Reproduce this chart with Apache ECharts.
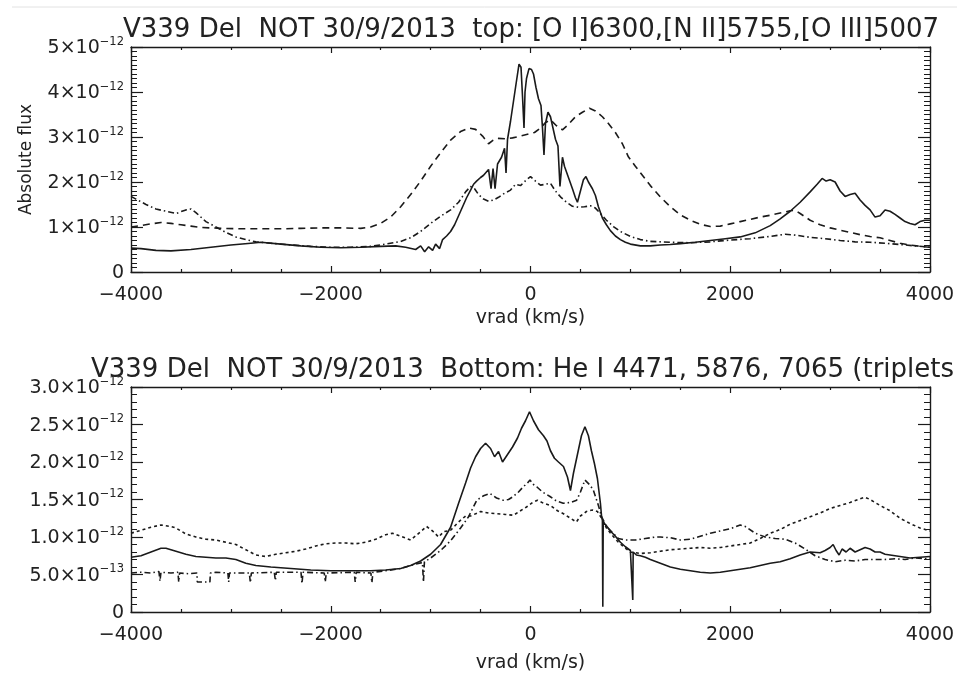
<!DOCTYPE html>
<html>
<head>
<meta charset="utf-8">
<script src="https://cdn.jsdelivr.net/npm/echarts@6/dist/echarts.min.js"></script>
<style>
html,body{margin:0;padding:0;background:#fff;}
#chart{width:975px;height:684px;}
</style>
</head>
<body>
<div id="chart"></div>
<script>
// Velocities in km/s, fluxes in units of 1e-12 (absolute flux)
// ---- Top panel: [O I]6300, [N II]5755, [O III]5007 ----
var topSolidV = [-4000,-3900,-3750,-3600,-3400,-3200,-3000,-2800,-2700,-2500,-2300,-2100,-1900,-1700,-1500,-1350,-1250,-1150,-1100,-1060,-1020,-980,-950,-910,-880,-840,-800,-760,-720,-680,-640,-600,-570,-540,-500,-470,-420,-395,-375,-355,-330,-290,-260,-245,-230,-200,-170,-140,-115,-95,-80,-65,-55,-40,-15,10,30,55,80,105,120,135,150,175,200,225,250,275,295,320,340,380,420,450,470,500,530,555,580,620,650,680,720,760,800,850,900,950,1000,1100,1200,1300,1400,1500,1650,1800,1950,2100,2250,2400,2500,2600,2700,2800,2870,2920,2960,3000,3050,3100,3150,3200,3250,3300,3350,3400,3450,3500,3550,3600,3650,3700,3750,3800,3850,3900,3950,4000];
var topSolidF = [0.53,0.52,0.48,0.47,0.50,0.55,0.60,0.64,0.66,0.62,0.58,0.55,0.54,0.55,0.57,0.58,0.55,0.50,0.58,0.45,0.56,0.48,0.62,0.52,0.72,0.80,0.90,1.05,1.25,1.45,1.65,1.82,1.95,2.02,2.10,2.15,2.28,1.85,2.30,1.85,2.40,2.55,2.75,2.20,2.95,3.35,3.80,4.25,4.62,4.55,3.90,3.20,4.00,4.30,4.52,4.50,4.40,4.10,3.85,3.70,3.20,2.60,3.30,3.55,3.45,3.20,2.95,2.80,1.90,2.55,2.35,2.10,1.85,1.65,1.55,1.80,2.05,2.12,2.00,1.85,1.70,1.45,1.20,1.05,0.92,0.80,0.72,0.66,0.62,0.58,0.58,0.60,0.61,0.63,0.66,0.70,0.74,0.78,0.87,1.03,1.18,1.35,1.55,1.78,1.95,2.08,2.02,2.05,2.00,1.80,1.68,1.72,1.75,1.60,1.48,1.38,1.22,1.25,1.38,1.35,1.28,1.20,1.12,1.08,1.05,1.12,1.15,1.15];

var topDashV = [-4000,-3900,-3800,-3700,-3600,-3500,-3400,-3300,-3100,-2900,-2700,-2500,-2300,-2100,-1900,-1700,-1600,-1500,-1400,-1300,-1200,-1100,-1000,-900,-800,-700,-620,-550,-480,-420,-380,-330,-250,-180,-100,-30,40,100,150,200,260,320,380,450,520,590,650,720,780,850,920,980,1050,1130,1200,1300,1400,1500,1600,1700,1800,1900,2000,2100,2200,2300,2400,2500,2600,2650,2700,2800,2900,3000,3100,3200,3300,3400,3500,3600,3700,3800,3900,4000];
var topDashF = [1.00,1.03,1.07,1.10,1.08,1.05,1.02,0.99,0.97,0.96,0.96,0.96,0.97,0.98,0.98,0.97,1.00,1.08,1.22,1.45,1.72,2.02,2.35,2.65,2.93,3.12,3.20,3.17,3.02,2.85,2.92,2.97,2.96,2.98,3.02,3.06,3.10,3.20,3.32,3.38,3.25,3.16,3.28,3.45,3.55,3.64,3.58,3.45,3.30,3.10,2.85,2.56,2.35,2.12,1.92,1.67,1.45,1.27,1.15,1.06,1.01,1.02,1.07,1.12,1.17,1.22,1.26,1.31,1.36,1.37,1.30,1.15,1.05,0.98,0.93,0.88,0.83,0.79,0.76,0.70,0.64,0.60,0.57,0.55];

var topDashDotV = [-4000,-3950,-3850,-3750,-3650,-3550,-3450,-3400,-3350,-3250,-3150,-3050,-2950,-2850,-2750,-2600,-2400,-2200,-2000,-1800,-1600,-1450,-1300,-1200,-1100,-1000,-900,-800,-720,-650,-600,-560,-520,-470,-420,-370,-320,-260,-200,-150,-100,-40,0,50,100,150,200,250,300,360,420,480,540,600,650,700,760,830,900,1000,1100,1200,1400,1600,1800,2000,2200,2400,2550,2650,2800,2950,3100,3250,3400,3550,3700,3850,4000];
var topDashDotF = [1.68,1.62,1.50,1.40,1.35,1.30,1.38,1.40,1.32,1.12,1.00,0.88,0.78,0.72,0.67,0.64,0.60,0.57,0.55,0.55,0.57,0.62,0.68,0.76,0.90,1.08,1.24,1.38,1.55,1.78,1.90,1.85,1.72,1.62,1.57,1.60,1.66,1.75,1.82,1.95,1.92,2.05,2.12,2.02,1.93,1.95,1.97,1.80,1.67,1.55,1.46,1.44,1.45,1.47,1.42,1.30,1.15,1.01,0.90,0.79,0.72,0.68,0.66,0.65,0.67,0.71,0.74,0.79,0.84,0.82,0.77,0.74,0.70,0.67,0.66,0.64,0.61,0.58,0.55];

// ---- Bottom panel: He I 4471, 5876, 7065 ----
var botSolidV = [-4000,-3900,-3800,-3700,-3650,-3550,-3450,-3350,-3250,-3150,-3050,-2950,-2850,-2750,-2600,-2400,-2200,-2000,-1800,-1600,-1450,-1300,-1200,-1100,-1000,-900,-800,-720,-650,-600,-550,-500,-450,-400,-360,-320,-280,-230,-180,-130,-90,-50,-10,30,80,130,165,200,240,280,330,370,400,430,470,510,545,580,610,640,670,700,712,720,724,728,760,800,850,900,950,1000,1020,1024,1028,1060,1100,1150,1200,1300,1400,1500,1600,1700,1800,1900,2000,2100,2200,2300,2400,2500,2600,2700,2800,2900,2950,3000,3030,3060,3090,3120,3160,3200,3250,3300,3350,3400,3450,3500,3550,3600,3700,3800,3900,4000];
var botSolidF = [0.73,0.75,0.80,0.85,0.85,0.81,0.77,0.74,0.73,0.72,0.72,0.70,0.65,0.62,0.60,0.58,0.56,0.55,0.55,0.55,0.56,0.58,0.62,0.68,0.77,0.90,1.13,1.45,1.72,1.92,2.07,2.18,2.25,2.18,2.07,2.14,2.00,2.10,2.20,2.32,2.45,2.55,2.67,2.55,2.43,2.35,2.28,2.15,2.05,2.00,1.94,1.80,1.62,1.85,2.10,2.35,2.47,2.35,2.15,1.98,1.78,1.45,1.27,1.22,0.07,1.20,1.15,1.08,1.01,0.93,0.87,0.82,0.80,0.16,0.80,0.76,0.75,0.73,0.70,0.65,0.60,0.57,0.55,0.53,0.52,0.53,0.55,0.57,0.59,0.62,0.65,0.67,0.71,0.76,0.80,0.79,0.82,0.86,0.90,0.82,0.76,0.84,0.80,0.85,0.80,0.83,0.86,0.84,0.80,0.80,0.77,0.76,0.74,0.72,0.73,0.74];

var botDotV = [-4000,-3900,-3800,-3700,-3600,-3550,-3450,-3350,-3250,-3150,-3050,-2950,-2850,-2750,-2650,-2550,-2450,-2350,-2250,-2150,-2050,-1950,-1850,-1750,-1650,-1550,-1450,-1380,-1300,-1200,-1100,-1040,-980,-920,-870,-800,-720,-650,-600,-500,-420,-340,-250,-170,-100,-40,20,70,130,200,270,330,400,460,500,560,620,670,712,760,820,880,940,1000,1100,1200,1300,1400,1500,1600,1700,1800,1900,2000,2100,2200,2300,2400,2500,2600,2700,2800,2900,3000,3100,3200,3300,3350,3400,3500,3600,3700,3800,3900,4000];
var botDotF = [1.05,1.09,1.13,1.16,1.14,1.12,1.04,1.00,0.97,0.96,0.93,0.90,0.83,0.76,0.74,0.77,0.79,0.81,0.84,0.88,0.91,0.92,0.92,0.91,0.93,0.97,1.03,1.05,1.01,0.96,1.07,1.14,1.08,1.00,1.07,1.09,1.20,1.28,1.28,1.34,1.32,1.31,1.30,1.29,1.35,1.40,1.46,1.49,1.45,1.42,1.35,1.31,1.25,1.20,1.28,1.34,1.36,1.34,1.25,1.12,1.02,0.93,0.86,0.80,0.78,0.79,0.81,0.83,0.84,0.85,0.86,0.85,0.86,0.88,0.90,0.92,0.98,1.05,1.10,1.17,1.22,1.27,1.32,1.38,1.42,1.46,1.51,1.53,1.50,1.42,1.35,1.25,1.18,1.12,1.08];

var botDashDotV = [-4000,-3900,-3800,-3720,-3710,-3700,-3600,-3530,-3522,-3514,-3420,-3340,-3336,-3210,-3205,-3150,-3030,-3022,-3014,-2815,-2805,-2795,-2565,-2555,-2545,-2298,-2288,-2278,-2065,-2055,-2045,-1765,-1755,-1745,-1598,-1588,-1578,-1450,-1300,-1150,-1082,-1072,-1062,-1000,-900,-800,-700,-620,-538,-470,-405,-340,-272,-220,-172,-120,-72,-30,-5,30,62,120,195,260,328,400,462,500,545,590,628,680,712,760,820,880,950,1050,1150,1250,1300,1400,1500,1600,1700,1800,1900,2000,2100,2150,2250,2350,2450,2550,2650,2750,2850,2950,3050,3150,3250,3350,3450,3550,3650,3750,3850,3950,4000];
var botDashDotF = [0.52,0.53,0.52,0.54,0.41,0.53,0.52,0.53,0.40,0.52,0.51,0.52,0.40,0.40,0.52,0.53,0.52,0.40,0.52,0.52,0.39,0.52,0.53,0.42,0.53,0.53,0.38,0.53,0.52,0.40,0.52,0.53,0.40,0.53,0.52,0.39,0.53,0.55,0.58,0.64,0.66,0.40,0.67,0.72,0.82,0.95,1.12,1.27,1.49,1.55,1.58,1.52,1.49,1.50,1.54,1.60,1.67,1.72,1.76,1.70,1.67,1.60,1.54,1.48,1.45,1.46,1.49,1.60,1.76,1.70,1.63,1.42,1.27,1.14,1.06,0.98,0.96,0.96,0.98,1.00,1.00,0.99,0.96,0.97,1.01,1.05,1.08,1.11,1.16,1.14,1.05,1.00,0.98,0.97,0.92,0.84,0.75,0.70,0.67,0.69,0.68,0.70,0.70,0.70,0.71,0.70,0.72,0.71,0.72];

// Tick labels
var topTickLabels = {0:'0',1:'1×10|−12',2:'2×10|−12',3:'3×10|−12',4:'4×10|−12',5:'5×10|−12'};
var botTickLabels = {'0':'0','0.5':'5.0×10|−13','1':'1.0×10|−12','1.5':'1.5×10|−12','2':'2.0×10|−12','2.5':'2.5×10|−12','3':'3.0×10|−12'};
var xTitle = 'vrad (km/s)';
var yTitle = 'Absolute flux';
var topTitle = 'V339 Del  NOT 30/9/2013  top: [O I]6300,[N II]5755,[O III]5007';
var botTitle = 'V339 Del  NOT 30/9/2013  Bottom: He I 4471, 5876, 7065 (triplets';

function zip(v, f){ var o=[]; for(var i=0;i<v.length;i++) o.push([v[i], f[i]]); return o; }

var FONT = "'DejaVu Sans ExtraLight', 'DejaVu Sans', sans-serif";
var INK = '#1a1a1a';
var TXT = '#222';

function richFmt(map){
  return function(val){
    var key = String(Math.round(val*10)/10);
    var s = map[key];
    if (s === undefined) return '';
    var parts = s.split('|');
    if (parts.length === 1) return '{m|' + parts[0] + '}';
    return '{m|' + parts[0] + '}{s|' + parts[1] + '}';
  };
}
var rich = {
  m: {fontSize: 19, fontFamily: FONT, color: TXT, lineHeight: 22, verticalAlign: 'bottom'},
  s: {fontSize: 11.5, fontFamily: FONT, color: TXT, lineHeight: 13, verticalAlign: 'top'}
};

function xAxes(gi, nameGap){
  var common = {
    type: 'value', gridIndex: gi, min: -4000, max: 4000, interval: 2000,
    axisLine: {show: true, onZero: false, lineStyle: {color: INK, width: 1.4}},
    axisTick: {show: true, inside: true, length: 6, lineStyle: {color: INK, width: 1.2}},
    minorTick: {show: true, splitNumber: 4, length: 3, lineStyle: {color: INK, width: 1.2}},
    splitLine: {show: false}, minorSplitLine: {show: false}
  };
  var b = Object.assign({}, common, {
    position: 'bottom',
    axisLabel: {show: true, margin: 14, fontSize: 19, fontFamily: FONT, color: TXT,
      formatter: function(v){ return v < 0 ? '−' + Math.abs(v) : String(v); }},
    name: xTitle, nameLocation: 'middle', nameGap: nameGap,
    nameTextStyle: {fontSize: 19, fontFamily: FONT, color: TXT}
  });
  var t = Object.assign({}, common, {position: 'top', axisLabel: {show: false}});
  return [b, t];
}
function yAxes(gi, max, interval, minorSplit, labels, withName){
  var common = {
    type: 'value', gridIndex: gi, min: 0, max: max, interval: interval,
    axisLine: {show: true, onZero: false, lineStyle: {color: INK, width: 1.4}},
    axisTick: {show: true, inside: true, length: 12, lineStyle: {color: INK, width: 1.2}},
    minorTick: {show: true, splitNumber: minorSplit, length: 6, lineStyle: {color: INK, width: 1}},
    splitLine: {show: false}, minorSplitLine: {show: false}
  };
  var l = Object.assign({}, common, {
    position: 'left',
    axisLabel: {show: true, margin: 7, formatter: richFmt(labels), rich: rich}
  });
  if (withName) {
    l.name = yTitle; l.nameLocation = 'middle'; l.nameGap = 96; l.nameRotate = 90;
    l.nameTextStyle = {fontSize: 17, fontFamily: FONT, color: TXT};
  }
  var r = Object.assign({}, common, {position: 'right', axisLabel: {show: false}});
  return [l, r];
}

var xa = xAxes(0, 37).concat(xAxes(1, 42));
var ya = yAxes(0, 5, 1, 10, topTickLabels, true).concat(yAxes(1, 3, 0.5, 5, botTickLabels, false));

function ser(gi, v, f, type){
  return {
    type: 'line', xAxisIndex: gi*2, yAxisIndex: gi*2, data: zip(v, f),
    showSymbol: false, symbol: 'none', animation: false, silent: true,
    lineStyle: {color: INK, width: 1.6, type: type}
  };
}

var chart = echarts.init(document.getElementById('chart'), null, {renderer: 'canvas'});
chart.setOption({
  backgroundColor: '#fff',
  animation: false,
  title: [
    {text: topTitle, left: 118, top: 12, textStyle: {fontSize: 26, fontWeight: 'normal', fontFamily: FONT, color: TXT}},
    {text: botTitle, left: 86, top: 352, textStyle: {fontSize: 26, fontWeight: 'normal', fontFamily: FONT, color: TXT}}
  ],
  graphic: [
    {type: 'line', shape: {x1: 12, y1: 7, x2: 957, y2: 7}, style: {stroke: '#e2e2e2', lineWidth: 1}}
  ],
  grid: [
    {left: 131, top: 47, width: 799, height: 225, containLabel: false},
    {left: 131, top: 387, width: 799, height: 225, containLabel: false}
  ],
  xAxis: xa,
  yAxis: ya,
  series: [
    ser(0, topSolidV, topSolidF, 'solid'),
    ser(0, topDashV, topDashF, [7,5]),
    ser(0, topDashDotV, topDashDotF, [6,3,1.5,3]),
    ser(1, botSolidV, botSolidF, 'solid'),
    ser(1, botDotV, botDotF, [3,3]),
    ser(1, botDashDotV, botDashDotF, [6,3,1.5,3])
  ]
});
</script>
</body>
</html>
